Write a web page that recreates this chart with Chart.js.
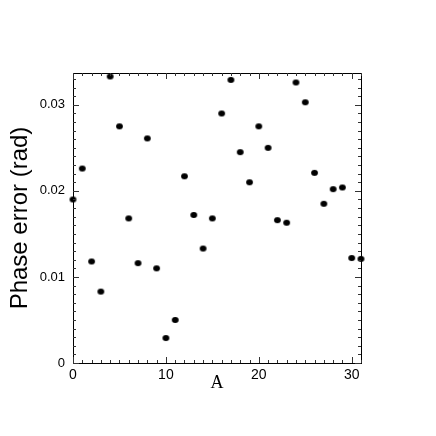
<!DOCTYPE html>
<html>
<head>
<meta charset="utf-8">
<script src="https://cdn.jsdelivr.net/npm/chart.js@4/dist/chart.umd.min.js"></script>
<style>
  html, body { margin:0; padding:0; background:#fff; }
  #wrap { width:436px; height:436px; }
</style>
</head>
<body>
<div id="wrap"><canvas id="grafik" width="436" height="436"></canvas></div>
<script>
// values
const channels = [0,1,2,3,4,5,6,7,8,9,10,11,12,13,14,15,16,17,18,19,20,21,22,23,24,25,26,27,28,29,30,31];
const phaseErr = [
  0.0190, 0.0226, 0.0118, 0.0083, 0.0333, 0.0275, 0.0168, 0.0116,
  0.0261, 0.0110, 0.0029, 0.0050, 0.0217, 0.0172, 0.0133, 0.0168,
  0.0290, 0.0329, 0.0245, 0.0210, 0.0275, 0.0250, 0.0166, 0.0163,
  0.0326, 0.0303, 0.0221, 0.0185, 0.0202, 0.0204, 0.0122, 0.0121
];
const xTicks = [0, 10, 20, 30];
const yTicks = [0, 0.01, 0.02, 0.03];
const yTickLabels = ["0", "0.01", "0.02", "0.03"];

const X_MAX = 31, Y_MAX = 0.0337;

// small elliptical dot
const dot = document.createElement("canvas");
dot.width = 9; dot.height = 8;
(function(){
  const c = dot.getContext("2d");
  c.fillStyle = "#000";
  c.beginPath();
  c.ellipse(4.5, 4, 3.4, 2.9, 0, 0, Math.PI*2);
  c.fill();
})();

// ticks on all four sides, pointing inwards
const inTicks = {
  id: "inTicks",
  afterDraw(chart){
    const ctx = chart.ctx, a = chart.chartArea;
    const xs = chart.scales.x, ys = chart.scales.y;
    ctx.save();
    ctx.strokeStyle = "#000";
    ctx.lineWidth = 1;
    ctx.strokeRect(Math.round(a.left)+0.5, Math.round(a.top)+0.5,
      Math.round(a.right-a.left), Math.round(a.bottom-a.top));
    ctx.strokeStyle = "#333";
    ctx.beginPath();
    for(let i=0;i<=X_MAX;i++){
      const px = Math.round(xs.getPixelForValue(i))+0.5;
      const len = (i%10===0) ? 6 : 3;
      ctx.moveTo(px, a.bottom); ctx.lineTo(px, a.bottom-len);
      ctx.moveTo(px, a.top); ctx.lineTo(px, a.top+len);
    }
    for(let k=0;k<=33;k++){
      const py = Math.round(ys.getPixelForValue(k/1000))+0.5;
      const len = (k%10===0) ? 6 : 3;
      ctx.moveTo(a.left, py); ctx.lineTo(a.left+len, py);
      ctx.moveTo(a.right, py); ctx.lineTo(a.right-len, py);
    }
    ctx.stroke();
    ctx.restore();
  }
};

new Chart(document.getElementById("grafik"),{
  type:"scatter",
  data:{
    datasets:[{
      label:"Phase error",
      data: channels.map((c,i)=>({x:c, y:phaseErr[i]})),
      pointStyle: dot,
      pointRadius: 3,
      clip: false,
      backgroundColor:"#000",
      borderColor:"#000"
    }]
  },
  options:{
    responsive:false,
    animation:false,
    layout:{ padding:{ top:73, right:75, left:0, bottom:0 } },
    plugins:{ legend:{display:false}, tooltip:{enabled:false} },
    scales:{
      x:{
        type:"linear", min:0, max:X_MAX,
        afterFit(s){ s.height = 73; },
        afterBuildTicks(s){ s.ticks = xTicks.map(v=>({value:v})); },
        grid:{ display:false, drawTicks:false },
        border:{ display:false },
        ticks:{ color:"#000", padding:4, maxRotation:0,
          font:{ family:"'Liberation Sans', Arial, sans-serif", size:14 } },
        title:{ display:true, text:"A", color:"#000",
          padding:{ top:0, bottom:42 },
          font:{ family:"'Liberation Serif', 'Times New Roman', serif", size:18 } }
      },
      y:{
        type:"linear", min:0, max:Y_MAX,
        afterFit(s){ s.width = 73; },
        afterBuildTicks(s){ s.ticks = yTicks.map(v=>({value:v})); },
        grid:{ display:false, drawTicks:false },
        border:{ display:false },
        ticks:{ color:"#000", padding:8,
          callback:(v)=>{ const i = yTicks.indexOf(v); return i>=0 ? yTickLabels[i] : ""; },
          font:{ family:"'Liberation Sans', Arial, sans-serif", size:13 } },
        title:{ display:true, text:"Phase error (rad)", color:"#000",
          padding:{ top:6, bottom:0 },
          font:{ family:"'Liberation Sans', Arial, sans-serif", size:24 } }
      }
    }
  },
  plugins:[inTicks]
});
</script>
</body>
</html>
